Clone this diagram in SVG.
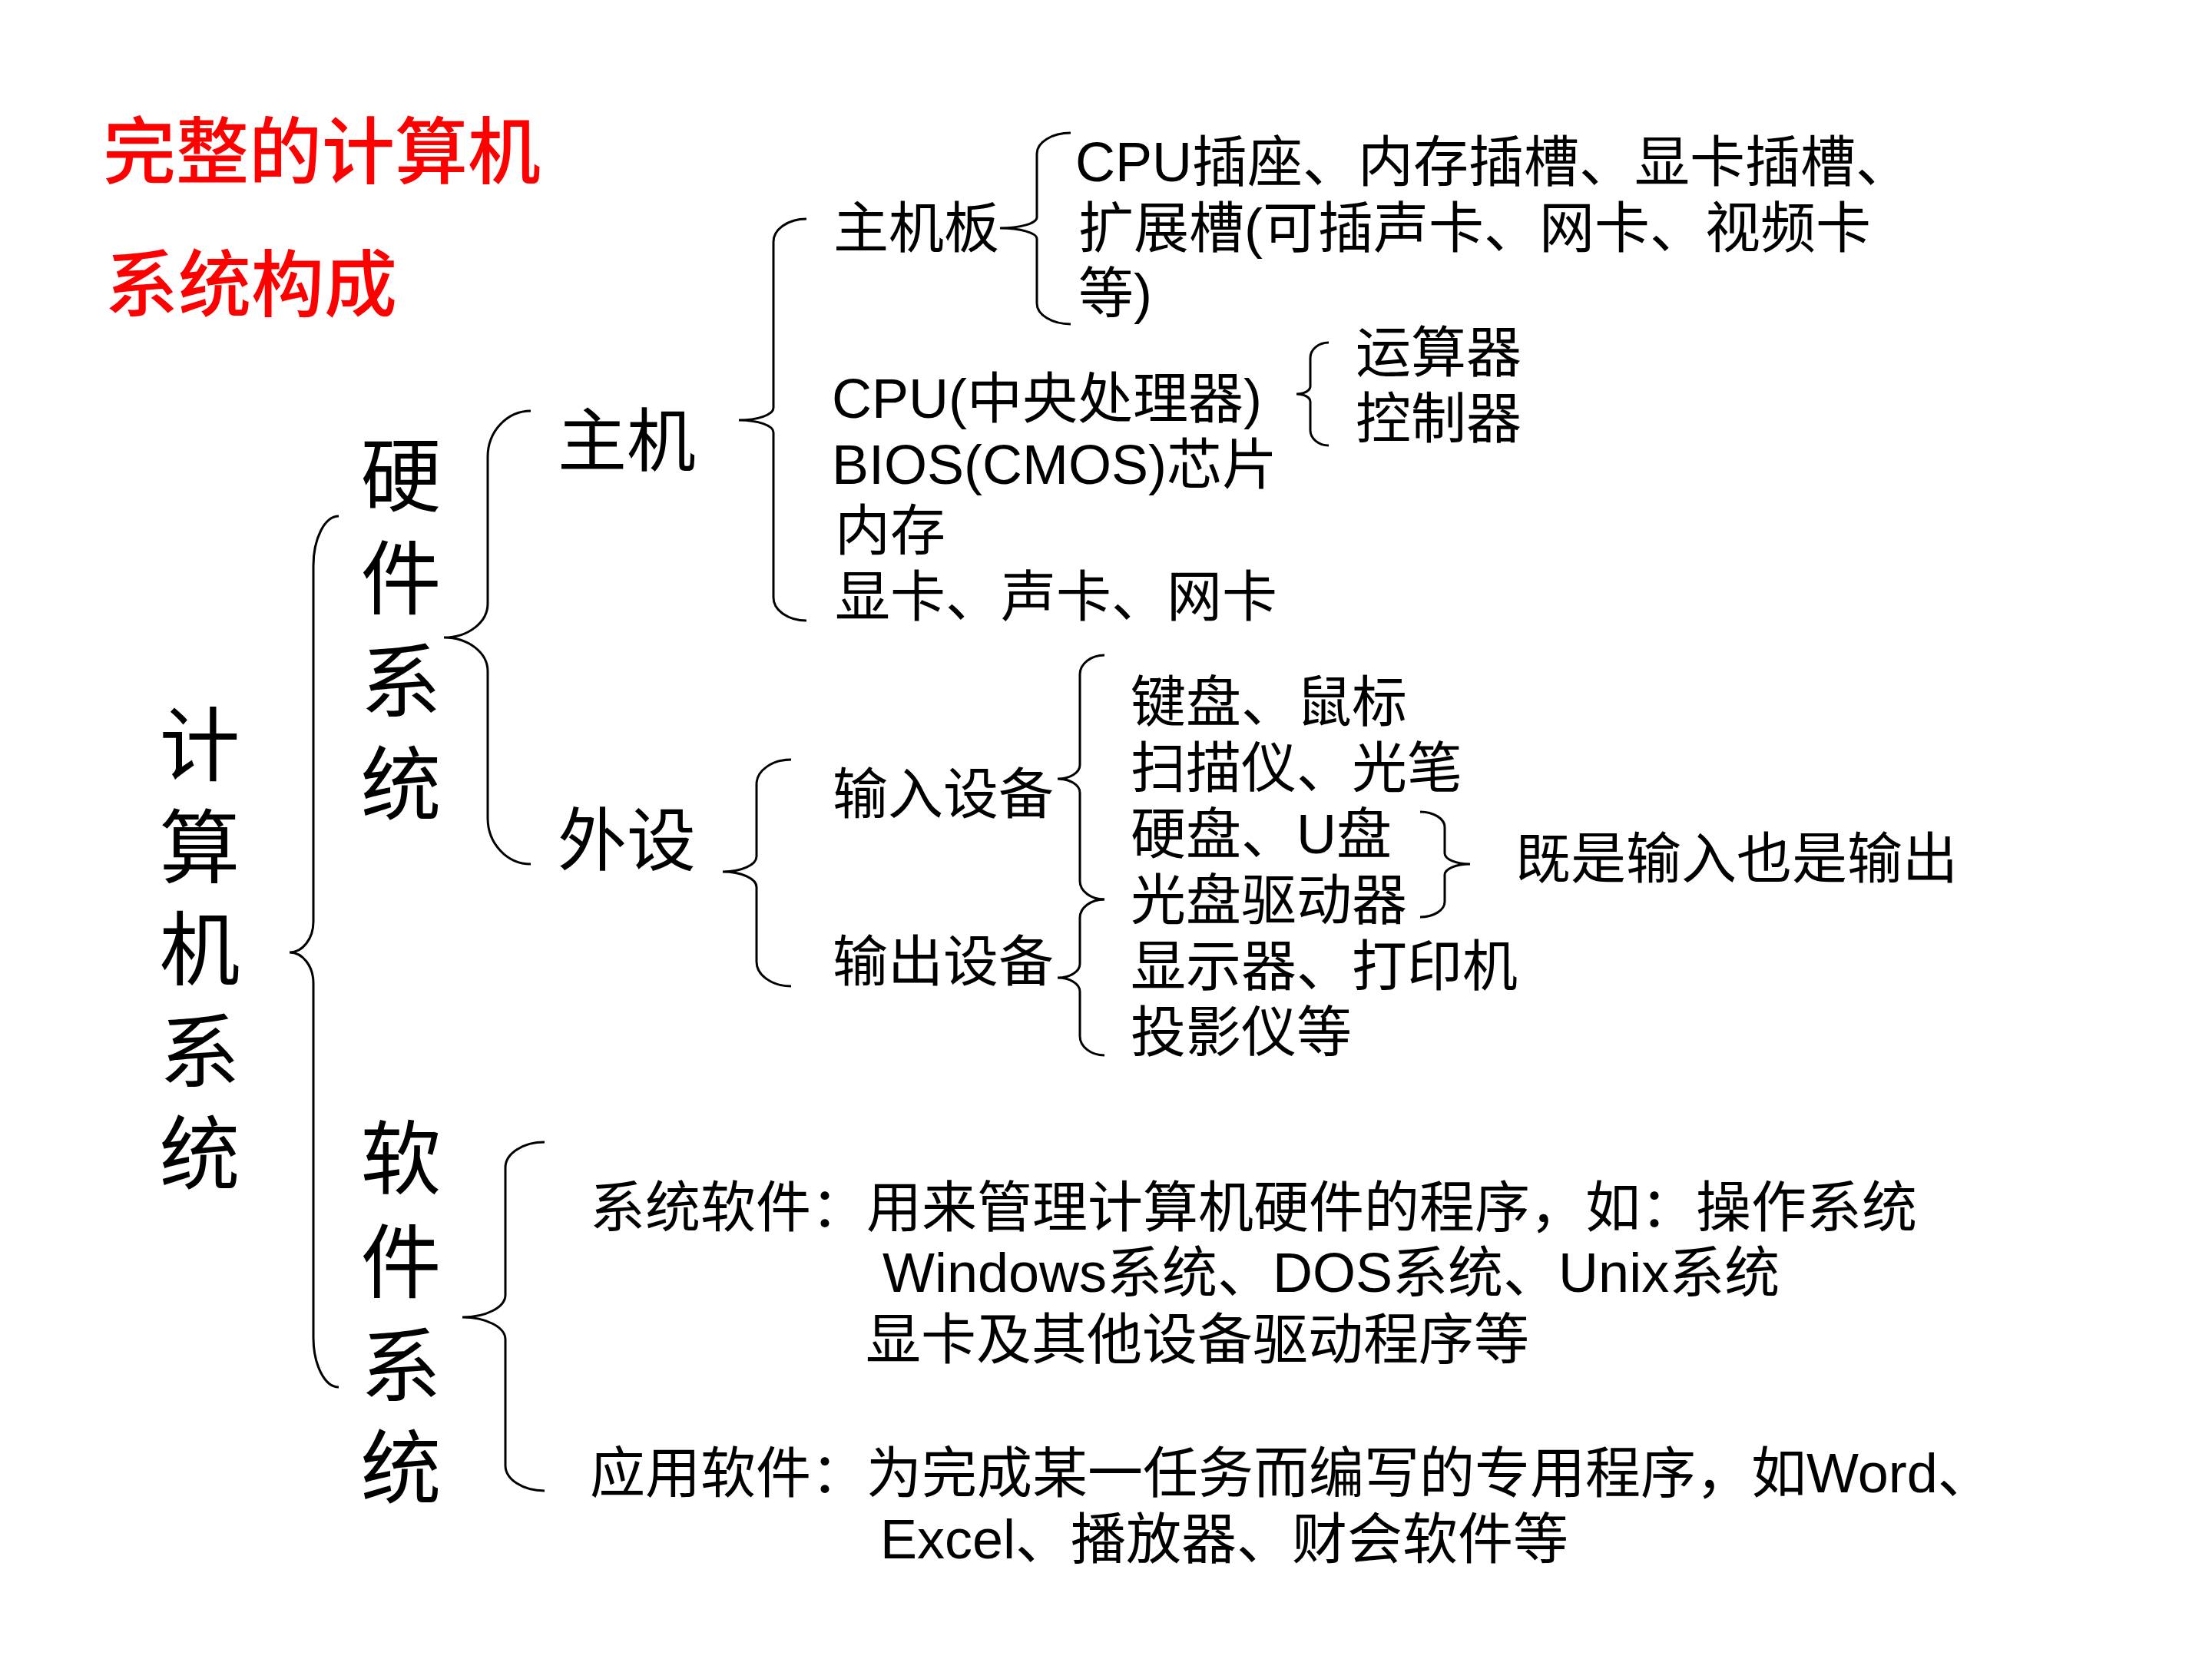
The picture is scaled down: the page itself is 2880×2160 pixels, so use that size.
<svg xmlns="http://www.w3.org/2000/svg" width="2880" height="2160" viewBox="0 0 2880 2160">
<style>
.t{font-family:"Liberation Sans","Noto Sans CJK SC",sans-serif;fill:#000;font-size:72px}
.m{font-size:90px}
.l{font-size:105px;text-anchor:middle}
.title{font-family:"Noto Sans CJK SC",sans-serif;font-weight:500;fill:#ff0000;font-size:95px}
.br{fill:none;stroke:#000;stroke-width:3}
</style>
<rect width="2880" height="2160" fill="#fff"/>
<g id="title">
<text class="title" x="134" y="232">完整的计算机</text>
<text class="title" x="137" y="405">系统构成</text>
</g>
<g id="connectors">
<path class="br" d="M441,672 A33,65 0 0 0 408,737 V1200 A31,40 0 0 1 377,1240 A31,40 0 0 1 408,1280 V1741 A33,65 0 0 0 441,1806"/>
<path class="br" d="M691,535 A56,60 0 0 0 635,595 V786 A57,44 0 0 1 578,830 A57,44 0 0 1 635,874 V1065 A56,60 0 0 0 691,1125"/>
<path class="br" d="M1050,285 A43,30 0 0 0 1007,315 V531 A45,16 0 0 1 962,547 A45,16 0 0 1 1007,563 V778 A43,30 0 0 0 1050,808"/>
<path class="br" d="M1394,173 A44,27 0 0 0 1350,200 V283 A48,14 0 0 1 1302,297 A48,14 0 0 1 1350,311 V395 A44,27 0 0 0 1394,422"/>
<path class="br" d="M1730,446 A24,20 0 0 0 1706,466 V503 A18,10 0 0 1 1688,513 A18,10 0 0 1 1706,523 V560 A24,20 0 0 0 1730,580"/>
<path class="br" d="M1030,989 A45,32 0 0 0 985,1021 V1115 A44,20 0 0 1 941,1135 A44,20 0 0 1 985,1155 V1252 A45,32 0 0 0 1030,1284"/>
<path class="br" d="M1438,853 A32,25 0 0 0 1406,878 V996 A29,18 0 0 1 1377,1014 A29,18 0 0 1 1406,1032 V1147 A32,24 0 0 0 1438,1171"/>
<path class="br" d="M1438,1171 A32,24 0 0 0 1406,1195 V1255 A29,18 0 0 1 1377,1273 A29,18 0 0 1 1406,1291 V1349 A32,25 0 0 0 1438,1374"/>
<path class="br" d="M1849,1057 A32,20 0 0 1 1881,1077 V1111 A33,14 0 0 0 1914,1125 A33,14 0 0 0 1881,1139 V1174 A32,20 0 0 1 1849,1194"/>
<path class="br" d="M709,1487 A51,33 0 0 0 658,1520 V1686 A56,29 0 0 1 602,1715 A56,29 0 0 1 658,1744 V1908 A51,33 0 0 0 709,1941"/>
</g>
<g id="computer">
<text class="t l" x="260"><tspan x="260" y="1008">计</tspan><tspan x="260" y="1141">算</tspan><tspan x="260" y="1274">机</tspan><tspan x="260" y="1407">系</tspan><tspan x="260" y="1540">统</tspan></text>
</g>
<g id="hardware">
<text class="t l" x="522"><tspan x="522" y="657">硬</tspan><tspan x="522" y="791">件</tspan><tspan x="522" y="925">系</tspan><tspan x="522" y="1059">统</tspan></text>
</g>
<g id="software">
<text class="t l" x="522"><tspan x="522" y="1546">软</tspan><tspan x="522" y="1681">件</tspan><tspan x="522" y="1816">系</tspan><tspan x="522" y="1949">统</tspan></text>
</g>
<g id="host"><text class="t m" x="726" y="606">主机</text></g>
<g id="peripheral"><text class="t m" x="726" y="1126">外设</text></g>
<g id="mainboard"><text class="t" x="1085" y="322">主机板</text></g>
<g id="mainboard-items">
<text class="t" x="1400" y="236">CPU插座、内存插槽、显卡插槽、</text>
<text class="t" x="1404" y="322">扩展槽(可插声卡、网卡、视频卡</text>
<text class="t" x="1404" y="407">等)</text>
</g>
<g id="cpu"><text class="t" x="1083" y="544">CPU(中央处理器)</text></g>
<g id="bios"><text class="t" x="1083" y="630">BIOS(CMOS)芯片</text></g>
<g id="memory"><text class="t" x="1087" y="716">内存</text></g>
<g id="cards"><text class="t" x="1087" y="802">显卡、声卡、网卡</text></g>
<g id="cpu-parts">
<text class="t" x="1765" y="484">运算器</text>
<text class="t" x="1765" y="570">控制器</text>
</g>
<g id="input"><text class="t" x="1084" y="1059">输入设备</text></g>
<g id="output"><text class="t" x="1084" y="1277">输出设备</text></g>
<g id="devices">
<text class="t" x="1472" y="939">键盘、鼠标</text>
<text class="t" x="1472" y="1025">扫描仪、光笔</text>
<text class="t" x="1472" y="1111">硬盘、U盘</text>
<text class="t" x="1472" y="1197">光盘驱动器</text>
<text class="t" x="1472" y="1283">显示器、打印机</text>
<text class="t" x="1472" y="1369">投影仪等</text>
</g>
<g id="both"><text class="t" x="1973" y="1143">既是输入也是输出</text></g>
<g id="system-software">
<text class="t" x="768" y="1597">系统软件：用来管理计算机硬件的程序，如：操作系统</text>
<text class="t" x="1149" y="1682">Windows系统、DOS系统、Unix系统</text>
<text class="t" x="1127" y="1769">显卡及其他设备驱动程序等</text>
</g>
<g id="application-software">
<text class="t" x="768" y="1943">应用软件：为完成某一任务而编写的专用程序，如Word、</text>
<text class="t" x="1146" y="2029">Excel、播放器、财会软件等</text>
</g>
</svg>
